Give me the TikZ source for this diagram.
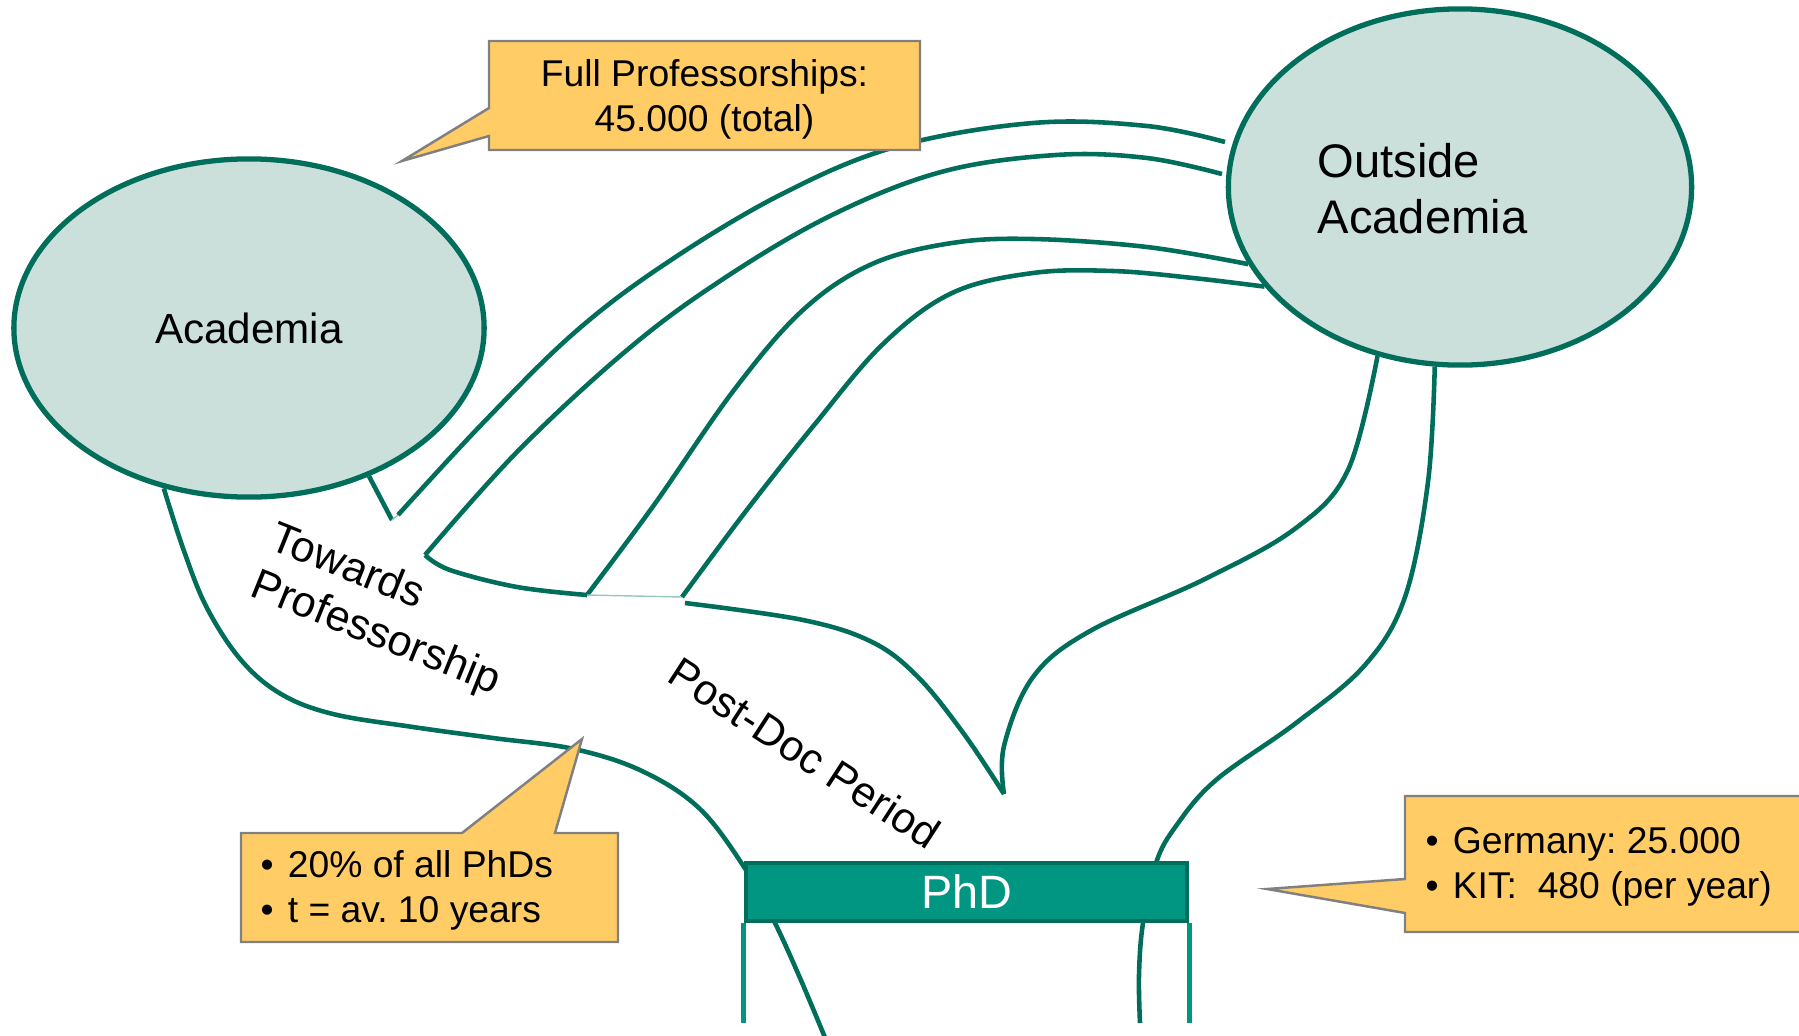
\documentclass[tikz,border=0pt]{standalone}
\usepackage{fontspec}
\setmainfont{Liberation Sans}
\usetikzlibrary{shapes.geometric,backgrounds}
\definecolor{kitgreen}{RGB}{0,110,90}
\definecolor{kitlight}{RGB}{204,224,219}
\definecolor{kitmid}{RGB}{0,150,130}
\definecolor{boxyellow}{RGB}{255,204,102}
\definecolor{boxgray}{RGB}{128,128,128}
\definecolor{gaplight}{RGB}{150,200,190}
\frenchspacing

\begin{document}
\begin{tikzpicture}[x=0.01cm, y=-0.01cm,
    flow/.style={draw=kitgreen, line width=1.3pt},
    gapline/.style={draw=gaplight, line width=0.4pt},
    bubble/.style={fill=boxyellow, draw=boxgray, line width=0.7pt},
    bubbletext/.style={font=\fontsize{10.6}{12.8}\selectfont, inner sep=0pt}]
    \useasboundingbox (0,0) rectangle (1799,1036);

    % Academia
    \node[ellipse, draw=kitgreen, fill=kitlight, line width=1.5pt, minimum width=4.7cm, minimum height=3.38cm, inner sep=0pt, font=\fontsize{12}{14}\selectfont] (academia) at (249,328) {Academia};

    % Outside Academia
    \node[ellipse, draw=kitgreen, fill=kitlight, line width=1.5pt, minimum width=4.63cm, minimum height=3.56cm, inner sep=0pt] (outside) at (1460,187) {};
    \node[anchor=west, align=left, inner sep=0pt, font=\fontsize{13.4}{16}\selectfont] (outsidetext) at (1317,189) {Outside\\Academia};

    % PhD
    \node[rectangle, draw=kitgreen, fill=kitmid, line width=1.3pt, minimum width=4.41cm, minimum height=0.58cm, inner sep=0pt, text=white, font=\fontsize{13.3}{16}\selectfont] (phd) at (966.5,892) {PhD};

    % Junctions
    \coordinate (kinkA) at (392,520);
    \coordinate (kinkB) at (398,515);
    \coordinate (postA) at (425,555);
    \coordinate (postB) at (587,595);
    \coordinate (postC) at (682,597);
    \coordinate (postD) at (685,603);
    \coordinate (cusp) at (1004,794);
    \coordinate (endB) at (1225,142);
    \coordinate (endC) at (1222,174);

    % Flows
    \begin{scope}[on background layer]
        \draw[flow] plot[smooth, tension=0.6] coordinates {(academia.242) (184,551) (207,608) (241,660) (281,694) (333,714) (413,727) (493,738) (574,749) (642,771) (700,809) (746,870) (774,921) (800,978) (826,1040)};
        \draw[flow] (academia.-51.5) -- (kinkA);
        \draw[gapline] (kinkA) -- (kinkB);
        \draw[flow] plot[smooth, tension=0.6] coordinates {(kinkB) (482,424) (574,333) (665,264) (780,195) (895,147) (1033,123) (1147,126) (endB)};
        \draw[flow] plot[smooth, tension=0.6] coordinates {(postA) (516,453) (620,356) (711,287) (826,218) (941,172) (1056,155) (1147,158) (endC)};
        \draw[flow] plot[smooth, tension=0.6] coordinates {(postA) (450,570) (517,587) (postB)};
        \draw[flow] plot[smooth, tension=0.6] coordinates {(postB) (654,505) (734,390) (803,310) (872,264) (952,243) (1033,239) (1147,247) (outside.200)};
        \draw[gapline] (postB) -- (postC);
        \draw[flow] plot[smooth, tension=0.6] coordinates {(postC) (746,511) (815,424) (883,344) (952,293) (1033,273) (1113,271) (1193,278) (outside.207)};
        \draw[flow] plot[smooth, tension=0.6] coordinates {(postD) (803,620) (872,642) (918,677) (964,734) (cusp)};
        \draw[flow] plot[smooth, tension=0.6] coordinates {(cusp) (1004,746) (1033,677) (1090,631) (1205,579) (1296,528) (1348,470) (outside.244)};
        \draw[flow] plot[smooth, tension=0.6] coordinates {(outside.262) (1428,482) (1405,597) (1365,665) (1296,723) (1216,780) (1176,826) (1156,863) (1143,923) (1139,975) (1140,1023)};
        \draw[draw=kitmid, line width=1.3pt] (phd.south west) -- ++(0,100);
        \draw[draw=kitmid, line width=1.3pt] (phd.south east) -- ++(0,100);
    \end{scope}

    % Labels
    \node[rotate=-22, align=left, font=\fontsize{12.3}{14.5}\selectfont] (towards) at (385,611) {Towards\\Professorship};
    \node[rotate=-33, font=\fontsize{12.2}{15}\selectfont] (postdoc) at (805,753) {Post-Doc Period};

    % Callouts
    \draw[bubble] (489,41) -- (920,41) -- (920,150) -- (489,150) -- (489,136) -- (402,161) -- (489,108) -- cycle;
    \node[bubbletext, align=center] (fullprof) at (704.5,99) {Full Professorships:\\45.000 (total)};

    \draw[bubble] (241,833) -- (462,833) -- (582,739) -- (555,833) -- (618,833) -- (618,942) -- (241,942) -- cycle;
    \node[bubbletext, anchor=west, align=left] (share) at (260,890) {\textbullet\hspace{4pt}20\% of all PhDs\\\textbullet\hspace{4pt}t = av. 10 years};

    \draw[bubble] (1405,796) -- (1810,796) -- (1810,932) -- (1405,932) -- (1405,913) -- (1267,889) -- (1405,879) -- cycle;
    \node[bubbletext, anchor=west, align=left] (numbers) at (1425,867) {\textbullet\hspace{4pt}Germany: 25.000\\\textbullet\hspace{4pt}KIT:\ \ 480 (per year)};
\end{tikzpicture}
\end{document}
